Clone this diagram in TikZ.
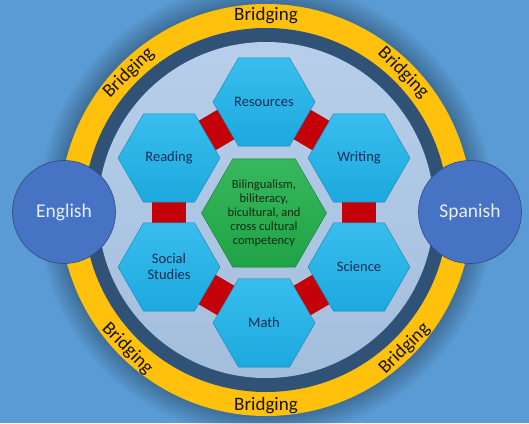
\documentclass[tikz,border=0pt]{standalone}
\usepackage{fontspec}
\setmainfont{Carlito}
\usetikzlibrary{shapes.geometric}

\definecolor{bgblue}{RGB}{91,155,213}
\definecolor{ringgold}{RGB}{255,193,12}
\definecolor{ringnavy}{RGB}{47,82,118}
\definecolor{disclight}{RGB}{170,198,230}
\definecolor{hexcyan}{RGB}{30,180,236}
\definecolor{hexgreen}{RGB}{34,176,76}
\definecolor{bandred}{RGB}{196,0,8}
\definecolor{langblue}{RGB}{70,115,196}
\definecolor{labelnavy}{RGB}{20,46,84}
\definecolor{labelgreen}{RGB}{16,42,20}

\pgfdeclarelayer{ring}
\pgfdeclarelayer{band}
\pgfsetlayers{ring,band,main}

\tikzset{
  hexa/.style={regular polygon, regular polygon sides=6, minimum size=102pt, inner sep=0pt,
    top color=hexcyan!88!white, bottom color=hexcyan!94!black, draw=hexcyan!75!black, line width=0.4pt,
    text=labelnavy, font=\fontsize{14.5}{16}\selectfont, align=center},
  corehex/.style={hexa, minimum size=125pt, top color=hexgreen!90!white, bottom color=hexgreen!92!black,
    draw=hexgreen!70!black, text=labelgreen, font=\fontsize{12.5}{14}\selectfont},
  lang/.style={circle, minimum size=103pt, inner sep=0pt, fill=langblue, draw=langblue!65!black, line width=0.6pt,
    text=white!88!langblue, font=\fontsize{19.5}{22}\selectfont},
  bridge/.style={text=black!90!ringgold, font=\fontsize{19}{20}\selectfont, inner sep=0pt},
  redband/.style={bandred, line width=34pt}
}

\begin{document}
\begin{tikzpicture}[x=1pt, y=-1pt]
  %tikz  bridging ring, subjects round the core
    \def\ro{206pt}
    \def\ri{182pt}
    \def\rd{168pt}
    \useasboundingbox (0,0) rectangle (529,423);
    \coordinate (c) at (266,210);
    \begin{pgfonlayer}{ring}
    \fill[bgblue] (0,0) rectangle (529,423);
    \foreach \k in {1,...,14}
      \fill[black, opacity=0.02] (c) circle ({\ro+1.6pt*\k});
    \fill[ringgold] (c) circle (\ro);
    \fill[ringnavy] (c) circle (\ri);
    \shade[top color=disclight!85!white, bottom color=disclight!96!black] (c) circle (\rd);
    \end{pgfonlayer}

    \foreach \a in {45,90,135}
      \path (c) ++(\a:194pt) node[bridge, rotate=\a-90] (brt\a) {Bridging};
    \foreach \a in {225,270,315}
      \path (c) ++(\a:196pt) node[bridge, rotate=\a+90] (brb\a) {Bridging};

    \node[hexa] (res) at (264,102) {Resources};
    \node[hexa] (wri) at (359,158) {Writing};
    \node[hexa] (sci) at (359,267) {Science};
    \node[hexa] (mat) at (264,323) {Math};
    \node[hexa] (soc) at (169,267) {Social\\Studies};
    \node[hexa] (rea) at (169,158) {Reading};
    \node[corehex] (core) at (264,213) {Bilingualism,\\biliteracy,\\bicultural, and\\cross cultural\\competency};

    \begin{pgfonlayer}{band}
    \draw[redband] (res.center) -- (wri.center);
    \draw[redband] (wri.center) -- (sci.center);
    \draw[redband] (sci.center) -- (mat.center);
    \draw[redband] (mat.center) -- (soc.center);
    \draw[redband] (soc.center) -- (rea.center);
    \draw[redband] (rea.center) -- (res.center);
    \end{pgfonlayer}

    \node[lang] (eng) at (64,212) {English};
    \node[lang] (spa) at (470,212) {Spanish};
  \end{tikzpicture}
\end{document}
